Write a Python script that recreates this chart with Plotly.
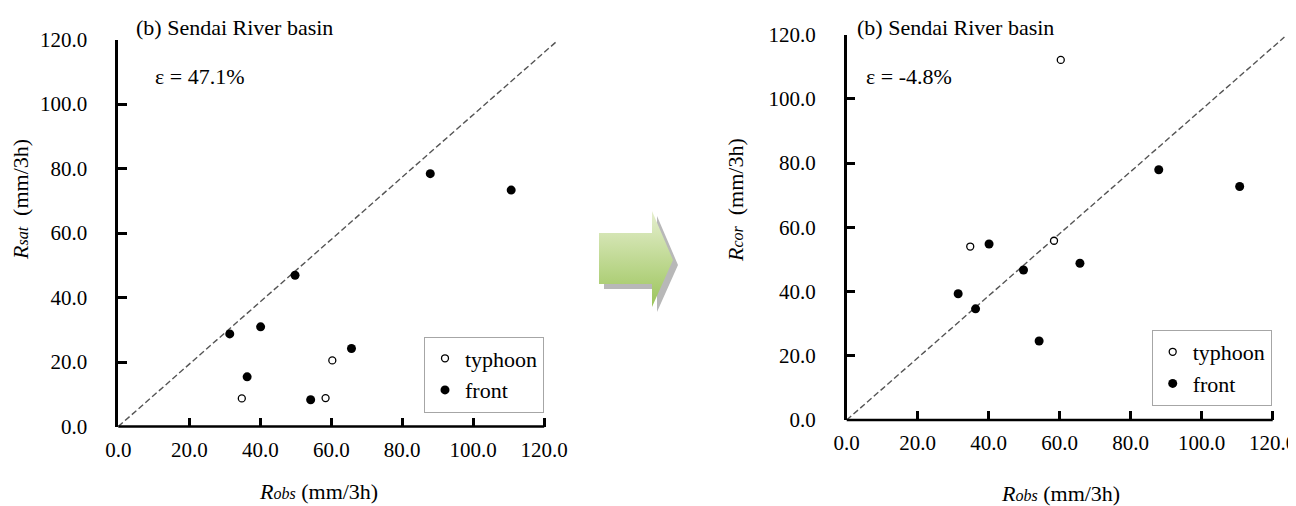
import plotly.graph_objects as go

# ---------------- data ----------------
typhoon_obs = [34.8, 58.4, 60.3]
typhoon_sat = [8.7, 8.8, 20.5]
typhoon_cor = [54.0, 55.8, 112.1]

front_obs = [31.4, 36.3, 40.1, 49.8, 54.2, 65.7, 87.9, 110.7]
front_sat = [28.7, 15.4, 30.9, 46.9, 8.3, 24.2, 78.4, 73.3]
front_cor = [39.3, 34.6, 54.8, 46.7, 24.6, 48.8, 77.9, 72.7]

diag_x = [0, 123.3]
diag_y = [0, 119.2]

tick_vals = [0, 20, 40, 60, 80, 100, 120]
tick_text = ["0.0", "20.0", "40.0", "60.0", "80.0", "100.0", "120.0"]

panel_title = "(b) Sendai River basin"
eps_left = "ε = 47.1%"
eps_right = "ε = -4.8%"

# ---------------- layout geometry ----------------
# the page body has an 8px margin, so the figure is drawn 8px in from the corner
OFF = 8
PAGE_W, PAGE_H = 1296, 506
W, H = PAGE_W - OFF, PAGE_H - OFF
FONT = "Liberation Serif, Times New Roman, serif"
FS = 22
TICK_FS = 21
XMAX = 123.5  # x range extended so the 1:1 line can run past 120


def px_x(p):
    return (p - OFF) / W


def px_y(p):
    return 1 - (p - OFF) / H


L_x0, L_x120 = 118.3, 544.2
L_y0, L_y120 = 426.5, 39.5
R_x0, R_x120 = 846.7, 1272.7
R_y0, R_y120 = 420.0, 34.5


def xdomain(x0, x120):
    end = x0 + (x120 - x0) * XMAX / 120
    return [px_x(x0), px_x(end)]


fig = go.Figure()

open_marker = dict(symbol="circle", size=7, color="white", line=dict(color="black", width=1.3))
fill_marker = dict(symbol="circle", size=9, color="black", line=dict(color="black", width=0))
diag_line = dict(color="#555555", width=1.4, dash="6px,3px")

# left panel
fig.add_trace(go.Scatter(x=diag_x, y=diag_y, mode="lines", line=diag_line,
                         showlegend=False, hoverinfo="skip", xaxis="x", yaxis="y"))
fig.add_trace(go.Scatter(x=typhoon_obs, y=typhoon_sat, mode="markers", name="typhoon",
                         marker=open_marker, xaxis="x", yaxis="y", legend="legend"))
fig.add_trace(go.Scatter(x=front_obs, y=front_sat, mode="markers", name="front",
                         marker=fill_marker, xaxis="x", yaxis="y", legend="legend"))

# right panel
fig.add_trace(go.Scatter(x=diag_x, y=diag_y, mode="lines", line=diag_line,
                         showlegend=False, hoverinfo="skip", xaxis="x2", yaxis="y2"))
fig.add_trace(go.Scatter(x=typhoon_obs, y=typhoon_cor, mode="markers", name="typhoon",
                         marker=open_marker, xaxis="x2", yaxis="y2", legend="legend2"))
fig.add_trace(go.Scatter(x=front_obs, y=front_cor, mode="markers", name="front",
                         marker=fill_marker, xaxis="x2", yaxis="y2", legend="legend2"))

# decorative arrow (page-pixel overlay axis)
arrow_x = [599, 652, 652, 673, 652, 652, 599, 599]
arrow_y = [233, 233, 211, 260, 307, 284, 284, 233]
shadow_dx, shadow_dy = 5, 5
fig.add_trace(go.Scatter(x=[v + shadow_dx for v in arrow_x], y=[v + shadow_dy for v in arrow_y],
                         mode="lines", fill="toself", fillcolor="#b8b8b8", line=dict(width=0),
                         showlegend=False, hoverinfo="skip", xaxis="x3", yaxis="y3"))
fig.add_trace(go.Scatter(x=arrow_x, y=arrow_y, mode="lines", fill="toself",
                         fillgradient=dict(type="vertical",
                                           colorscale=[[0, "#9bc45a"], [1, "#e6efcf"]]),
                         line=dict(width=0),
                         showlegend=False, hoverinfo="skip", xaxis="x3", yaxis="y3"))

axis_common = dict(
    range=[0, 120], tickvals=tick_vals, ticktext=tick_text,
    ticks="inside", ticklen=9, tickwidth=2.5, tickcolor="black",
    showgrid=False, zeroline=False, automargin=False, ticklabeloverflow="allow",
    tickfont=dict(family=FONT, size=TICK_FS, color="black"),
)

xaxis_common = dict(axis_common)
xaxis_common.update(range=[0, XMAX], showline=False, ticklabelstandoff=8)
yaxis_common = dict(axis_common)
yaxis_common.update(showline=True, linecolor="black", linewidth=2.5, ticklabelstandoff=24)

legend_common = dict(xanchor="left", yanchor="top", bgcolor="white",
                     bordercolor="#a6a6a6", borderwidth=1,
                     font=dict(family=FONT, size=22), tracegroupgap=0, itemwidth=30)

fig.update_layout(
    width=W, height=H,
    margin=dict(l=0, r=0, t=0, b=0, autoexpand=False),
    paper_bgcolor="white", plot_bgcolor="rgba(0,0,0,0)",
    font=dict(family=FONT, size=FS, color="black"),
    xaxis=dict(xaxis_common, domain=xdomain(L_x0, L_x120), anchor="y"),
    yaxis=dict(yaxis_common, domain=[px_y(L_y0), px_y(L_y120)], anchor="x"),
    xaxis2=dict(xaxis_common, domain=xdomain(R_x0, R_x120), anchor="y2"),
    yaxis2=dict(yaxis_common, domain=[px_y(R_y0), px_y(R_y120)], anchor="x2"),
    xaxis3=dict(domain=[0, 1], range=[OFF, PAGE_W], visible=False, anchor="y3", fixedrange=True),
    yaxis3=dict(domain=[0, 1], range=[PAGE_H, OFF], visible=False, anchor="x3", fixedrange=True),
    legend=dict(legend_common, x=px_x(424), y=px_y(336.5)),
    legend2=dict(legend_common, x=px_x(1151.7), y=px_y(330)),
)

# x-axis lines (only up to 120)
for x0, x120, y0 in [(L_x0, L_x120, L_y0), (R_x0, R_x120, R_y0)]:
    fig.add_shape(type="line", xref="paper", yref="paper",
                  x0=px_x(x0), x1=px_x(x120), y0=px_y(y0), y1=px_y(y0),
                  line=dict(color="black", width=2.5), layer="above")

sub_style = "font-size:16px"
ann = [
    dict(x=px_x(134), y=px_y(27), text=panel_title, xanchor="left"),
    dict(x=px_x(855), y=px_y(27), text=panel_title, xanchor="left"),
    dict(x=px_x(153), y=px_y(77), text=eps_left, xanchor="left"),
    dict(x=px_x(864), y=px_y(77), text=eps_right, xanchor="left"),
    dict(x=px_x(318), y=px_y(491),
         text=f"<i>R<span style='{sub_style}'>obs</span></i> (mm/3h)", xanchor="center"),
    dict(x=px_x(1060), y=px_y(493),
         text=f"<i>R<span style='{sub_style}'>obs</span></i> (mm/3h)", xanchor="center"),
    dict(x=px_x(20), y=px_y(200), textangle=-90,
         text=f"<i>R<span style='{sub_style}'>sat</span></i>&nbsp; (mm/3h)", xanchor="center"),
    dict(x=px_x(735), y=px_y(200), textangle=-90,
         text=f"<i>R<span style='{sub_style}'>cor</span></i>&nbsp; (mm/3h)", xanchor="center"),
]
for a in ann:
    a.update(xref="paper", yref="paper", showarrow=False, yanchor="middle",
             font=dict(family=FONT, size=FS, color="black"))
    fig.add_annotation(**a)

fig.write_html("out.html")
